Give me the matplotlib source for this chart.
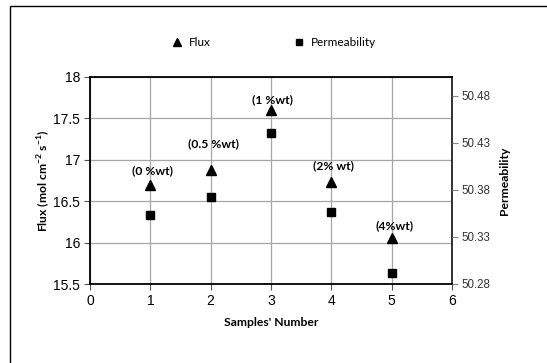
import matplotlib
matplotlib.use("Agg")
import matplotlib.pyplot as plt
from matplotlib.patches import Rectangle

samples = [1, 2, 3, 4, 5]
flux = [16.69, 16.88, 17.60, 16.73, 16.05]
permeability = [50.353, 50.372, 50.441, 50.357, 50.292]
labels = ["(0 %wt)", "(0.5 %wt)", "(1 %wt)", "(2% wt)", "(4%wt)"]
label_x = [1.04, 2.04, 3.03, 4.04, 5.04]
label_y = [16.87, 17.19, 17.72, 16.93, 16.21]
left_ticks = [15.5, 16, 16.5, 17, 17.5, 18]
right_ticks = [50.28, 50.33, 50.38, 50.43, 50.48]
x_ticks = [0, 1, 2, 3, 4, 5, 6]

plt.rcParams['font.family'] = ['Liberation Sans', 'DejaVu Sans']
plt.rcParams['mathtext.fontset'] = 'custom'
plt.rcParams['mathtext.rm'] = 'Lato'
plt.rcParams['mathtext.bf'] = 'Lato:bold'

fig = plt.figure(figsize=(5.47, 3.63), dpi=100)
ax = fig.add_axes([90/547, 1-284/363, (452-90)/547, (284-77)/363])
ax2 = ax.twinx()

ax.set_xlim(0, 6)
ax.set_ylim(15.5, 18)
ax2.set_ylim(50.28, 50.50)
ax.set_xticks(x_ticks)
ax.set_yticks(left_ticks)
ax.set_yticklabels([f"{t:g}" for t in left_ticks])
ax2.set_yticks(right_ticks)
ax2.set_yticklabels([f"{t:.2f}" for t in right_ticks])

ax.grid(True, color='#a6a6a6', linewidth=0.9)
ax.set_axisbelow(True)
ax.tick_params(axis='both', labelsize=10, length=4, width=0.8, color='#555555', direction='out', pad=3)
ax2.tick_params(axis='y', labelsize=8.3, length=4, width=0.8, color='#888888', labelcolor='#333333', pad=3)

for sp in ['left', 'bottom', 'top']:
    ax.spines[sp].set_linewidth(1.3)
    ax.spines[sp].set_color('black')
for sp in ax2.spines.values():
    sp.set_visible(False)
ax.spines['right'].set_linewidth(1.3)
ax.spines['right'].set_color('#222222')

l1, = ax.plot(samples, flux, linestyle='none', marker='^', markersize=7.5, color='black', label='Flux', zorder=5)
l2, = ax2.plot(samples, permeability, linestyle='none', marker='s', markersize=6, color='black', label='Permeability', zorder=5)

for x, y, t in zip(label_x, label_y, labels):
    ax.text(x, y, t, ha='center', va='center', fontsize=8.7, fontweight='bold', family='Lato')

ax.set_xlabel("Samples' Number", fontsize=8.7, fontweight='bold', family='Lato', labelpad=7)
ax.set_ylabel(r"Flux (mol cm$^{\mathbf{-2}}$ s$^{\mathbf{-1}}$)", fontsize=8.7, fontweight='bold', family='Lato', labelpad=1)
ax2.set_ylabel("Permeability", fontsize=8.7, fontweight='bold', family='Lato', labelpad=6)

fig.legend([l1, l2], ['Flux', 'Permeability'], loc='center', bbox_to_anchor=(0.495, 1-43/363),
           ncol=2, frameon=False, handletextpad=0.0, columnspacing=6.5, markerscale=0.75,
           prop={'family': 'Lato', 'size': 8.5})

fig.patches.append(Rectangle((10/547, -0.05), 1.1, 1.05 - 6/363, transform=fig.transFigure,
                             fill=False, edgecolor='black', linewidth=1.0))

fig.savefig("out.png", dpi=100)
